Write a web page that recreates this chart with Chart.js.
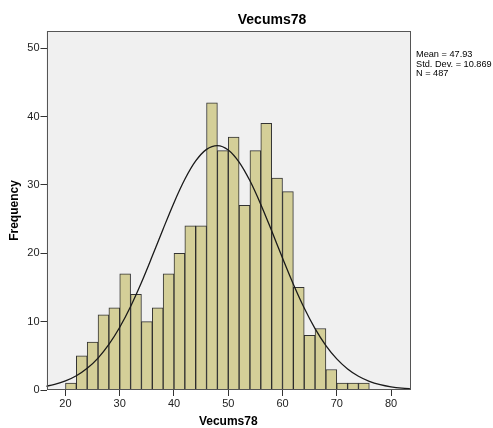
<!DOCTYPE html>
<html><head><meta charset="utf-8">
<script src="https://cdn.jsdelivr.net/npm/chart.js@4/dist/chart.umd.min.js"></script>
<style>html,body{margin:0;padding:0;background:#fff;overflow:hidden}#wrap{width:493px;height:428px;position:relative}</style>
</head><body><div id="wrap"><canvas id="c" width="493" height="428"></canvas></div>
<script>
// Histogram bins (lower edge) and counts, bin width 2
const binStarts = [20,22,24,26,28,30,32,34,36,38,40,42,44,46,48,50,52,54,56,58,60,62,64,66,68,70,72,74];
const counts    = [1,5,7,11,12,17,14,10,12,17,20,24,24,42,35,37,27,35,39,31,29,15,8,9,3,1,1,1];
// Normal curve points
const curveX = [16,18,20,22,24,26,28,30,32,34,36,38,40,42,44,46,48,50,52,54,56,58,60,62,64,66,68,70,72,74,76,78,80,82,84];
const curveY = [0.48,0.81,1.32,2.08,3.17,4.67,6.66,9.17,12.21,15.72,19.58,23.55,27.40,30.81,33.49,35.19,35.75,35.11,33.33,30.59,27.14,23.28,19.30,15.47,11.99,8.98,6.50,4.55,3.08,2.01,1.27,0.78,0.46,0.26,0.15];
const xTicks = [20,30,40,50,60,70,80];
const yTicks = [0,10,20,30,40,50];
const titleText = "Vecums78";
const xTitle = "Vecums78";
const yTitle = "Frequency";
const statsLines = ["Mean = 47.93","Std. Dev. = 10.869","N = 487"];

const binWidth = 2;
const barData = binStarts.map((s,i)=>({x:s+binWidth/2,y:counts[i]}));
const lineData = curveX.map((x,i)=>({x:x,y:curveY[i]}));

const FONT = "'Liberation Sans', Arial, sans-serif";

const deco = {
  id:'deco',
  beforeDraw(chart){
    const {ctx, chartArea:a} = chart;
    ctx.save();
    ctx.fillStyle = '#f0f0f0';
    ctx.fillRect(a.left,a.top,a.right-a.left,a.bottom-a.top);
    ctx.restore();
  },
  afterDraw(chart){
    const {ctx, chartArea:a} = chart;
    ctx.save();
    ctx.strokeStyle = '#555555';
    ctx.lineWidth = 1;
    ctx.strokeRect(Math.round(a.left)+0.5, Math.round(a.top)+0.5, Math.round(a.right-a.left)-1, Math.round(a.bottom-a.top)-1);
    ctx.fillStyle = '#000';
    ctx.font = "bold 14px "+FONT;
    ctx.textAlign='center'; ctx.textBaseline='middle';
    ctx.fillText(titleText, 272, 20);
    ctx.font = "bold 12px "+FONT;
    ctx.fillText(xTitle, (a.left+a.right)/2, 422);
    ctx.save();
    ctx.translate(15,(a.top+a.bottom)/2);
    ctx.rotate(-Math.PI/2);
    ctx.fillText(yTitle,0,0);
    ctx.restore();
    ctx.font = "9.2px "+FONT;
    ctx.textAlign='left';
    statsLines.forEach((t,i)=>ctx.fillText(t, 416, 54.5+i*9.5));
    ctx.restore();
  }
};

new Chart(document.getElementById('c'),{
  type:'bar',
  data:{datasets:[
    {type:'line',data:lineData,borderColor:'#1a1a1a',borderWidth:1.3,pointRadius:0,fill:false,tension:0.4,cubicInterpolationMode:'monotone',order:0},
    {type:'bar',data:barData,backgroundColor:'#d4cf98',borderColor:'rgba(30,30,30,0.9)',borderWidth:1,barPercentage:1,categoryPercentage:1,grouped:false,order:1}
  ]},
  options:{
    responsive:false,animation:false,
    layout:{padding:{left:0,right:83,top:31,bottom:0}},
    plugins:{legend:{display:false},tooltip:{enabled:false},title:{display:false}},
    scales:{
      x:{type:'linear',min:16.5,max:83.5,offset:false,
        afterBuildTicks(s){s.ticks=xTicks.map(v=>({value:v}));},
        afterFit(s){s.height=38;},
        grid:{display:true,offset:false,drawOnChartArea:false,drawTicks:true,tickLength:6,color:'#333',tickColor:'#333'},
        border:{display:false},
        ticks:{color:'#222',font:{size:11,family:FONT},padding:1,maxRotation:0,autoSkip:false}},
      y:{min:0,max:52.5,
        afterBuildTicks(s){s.ticks=yTicks.map(v=>({value:v}));},
        afterFit(s){s.width=46.5;},
        grid:{display:true,offset:false,drawOnChartArea:false,drawTicks:true,tickLength:6,color:'#333',tickColor:'#333'},
        border:{display:false},
        ticks:{color:'#222',font:{size:11,family:FONT},padding:1}}
    }
  },
  plugins:[deco]
});
</script></body></html>
